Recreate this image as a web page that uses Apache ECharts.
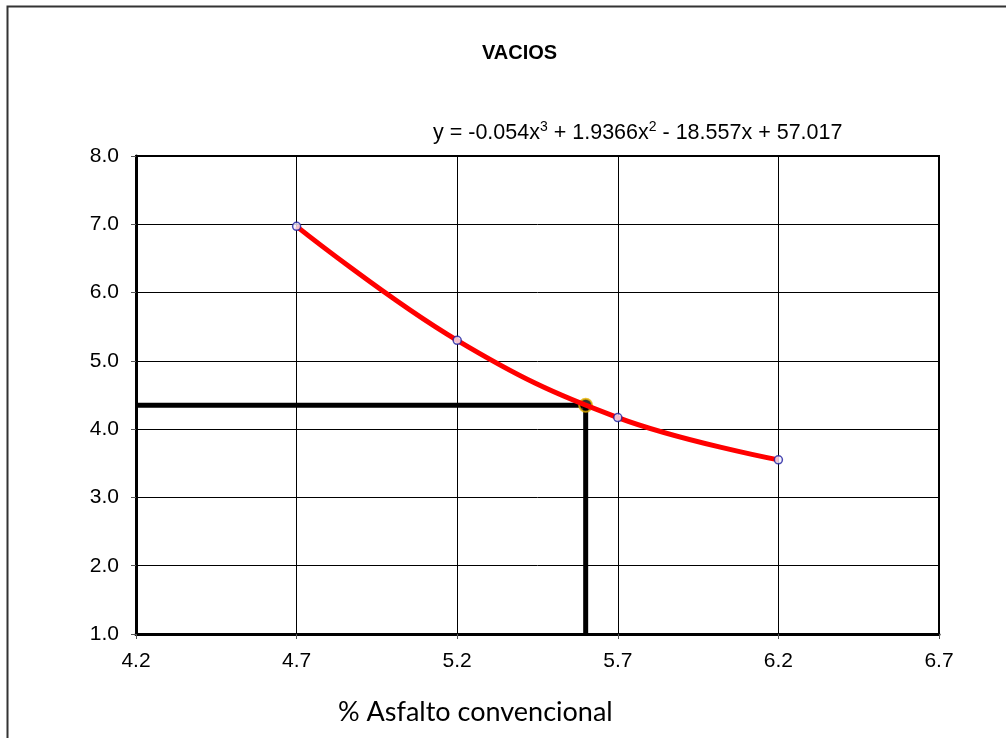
<!DOCTYPE html>
<html>
<head>
<meta charset="utf-8">
<script src="https://cdn.jsdelivr.net/npm/echarts@6/dist/echarts.min.js"></script>
<style>
  html, body { margin: 0; padding: 0; background: #fff; }
  #chart { width: 1006px; height: 738px; }
</style>
</head>
<body>
<div id="chart"></div>
<script>
// Asphalt content (%) of each specimen and its measured air voids (%)
const asphaltPct = [4.7, 5.2, 5.7, 6.2];
const voidsPct = [6.97, 5.30, 4.17, 3.55];

// Design point read on the fitted curve
const designAsphalt = 5.6;
const designVoids = 4.35;

// Axis ranges
const X_MIN = 4.2, X_MAX = 6.7, X_STEP = 0.5;
const Y_MIN = 1.0, Y_MAX = 8.0, Y_STEP = 1.0;

const titleText = 'VACIOS';
const xTitle = '% Asfalto convencional';
const fitParts = ['y = -0.054x', '3', ' + 1.9366x', '2', ' - 18.557x + 57.017'];

// The x axis runs on an offset scale so its ticks start exactly at X_MIN
const sx = v => +(v - X_MIN).toFixed(6);
const pts = asphaltPct.map((x, i) => [sx(x), voidsPct[i]]);
const guide = [[sx(X_MIN), designVoids], [sx(designAsphalt), designVoids], [sx(designAsphalt), Y_MIN]];

const font = '"Liberation Sans", Arial, sans-serif';
const chart = echarts.init(document.getElementById('chart'), null, { renderer: 'canvas' });

chart.setOption({
  backgroundColor: '#fff',
  animation: false,
  grid: {
    left: 136, top: 156, right: 67, bottom: 104,
    show: true, borderColor: '#000', borderWidth: 2, backgroundColor: 'transparent'
  },
  xAxis: {
    type: 'value',
    min: 0, max: sx(X_MAX), interval: X_STEP,
    axisLine: { show: true, onZero: false, lineStyle: { color: '#000', width: 3 } },
    axisTick: { show: true, inside: false, length: 5, lineStyle: { color: '#555', width: 1 } },
    axisLabel: {
      margin: 17, color: '#000', fontFamily: font, fontSize: 21,
      formatter: v => (v + X_MIN).toFixed(1)
    },
    splitLine: { show: true, lineStyle: { color: '#000', width: 1 } }
  },
  yAxis: {
    type: 'value',
    min: Y_MIN, max: Y_MAX, interval: Y_STEP,
    axisLine: { show: true, onZero: false, lineStyle: { color: '#000', width: 3 } },
    axisTick: { show: true, inside: false, length: 5, lineStyle: { color: '#555', width: 1 } },
    axisLabel: {
      margin: 17, color: '#000', fontFamily: font, fontSize: 21,
      formatter: v => v.toFixed(1)
    },
    splitLine: { show: true, lineStyle: { color: '#000', width: 1 } }
  },
  series: [
    {
      // guide lines from the design point to both axes
      type: 'line', data: guide, z: 3,
      symbol: 'none', silent: true,
      lineStyle: { color: '#000', width: 5 }
    },
    {
      // design point marker
      type: 'scatter', data: [[sx(designAsphalt), designVoids]], z: 4,
      symbol: 'circle', symbolSize: 13,
      itemStyle: { color: '#000', borderColor: '#e8b400', borderWidth: 2 }
    },
    {
      // fitted curve through the test results
      type: 'line', data: pts, z: 5,
      smooth: 0.4, symbol: 'none',
      lineStyle: { color: '#ff0000', width: 5 }
    },
    {
      // test results
      type: 'scatter', data: pts, z: 6,
      symbol: 'circle', symbolSize: 8,
      itemStyle: { color: '#f4f0ff', borderColor: '#1c1c9c', borderWidth: 1.5 }
    }
  ],
  graphic: [
    {
      type: 'rect', z: 0, silent: true,
      shape: { x: 7.5, y: 6.5, width: 1010, height: 740 },
      style: { fill: 'none', stroke: '#333', lineWidth: 2 }
    },
    {
      type: 'text', left: 482, top: 43, z: 10,
      style: { text: titleText, font: 'bold 20px ' + font, fill: '#000' }
    },
    {
      type: 'text', left: 433, top: 118, z: 10,
      style: {
        text: '{n|' + fitParts[0] + '}{s|' + fitParts[1] + '}{n|' + fitParts[2] + '}{s|' + fitParts[3] + '}{n|' + fitParts[4] + '}',
        rich: {
          n: { fontFamily: font, fontSize: 21.5, lineHeight: 26, fill: '#000', color: '#000', verticalAlign: 'bottom' },
          s: { fontFamily: font, fontSize: 14, lineHeight: 26, fill: '#000', color: '#000', verticalAlign: 'top', padding: [2, 0, 0, 0] }
        }
      }
    },
    {
      type: 'text', left: 338, top: 699, z: 10,
      style: { text: xTitle, font: '27px Lato, "Open Sans", sans-serif', fill: '#000' }
    }
  ]
});
</script>
</body>
</html>
